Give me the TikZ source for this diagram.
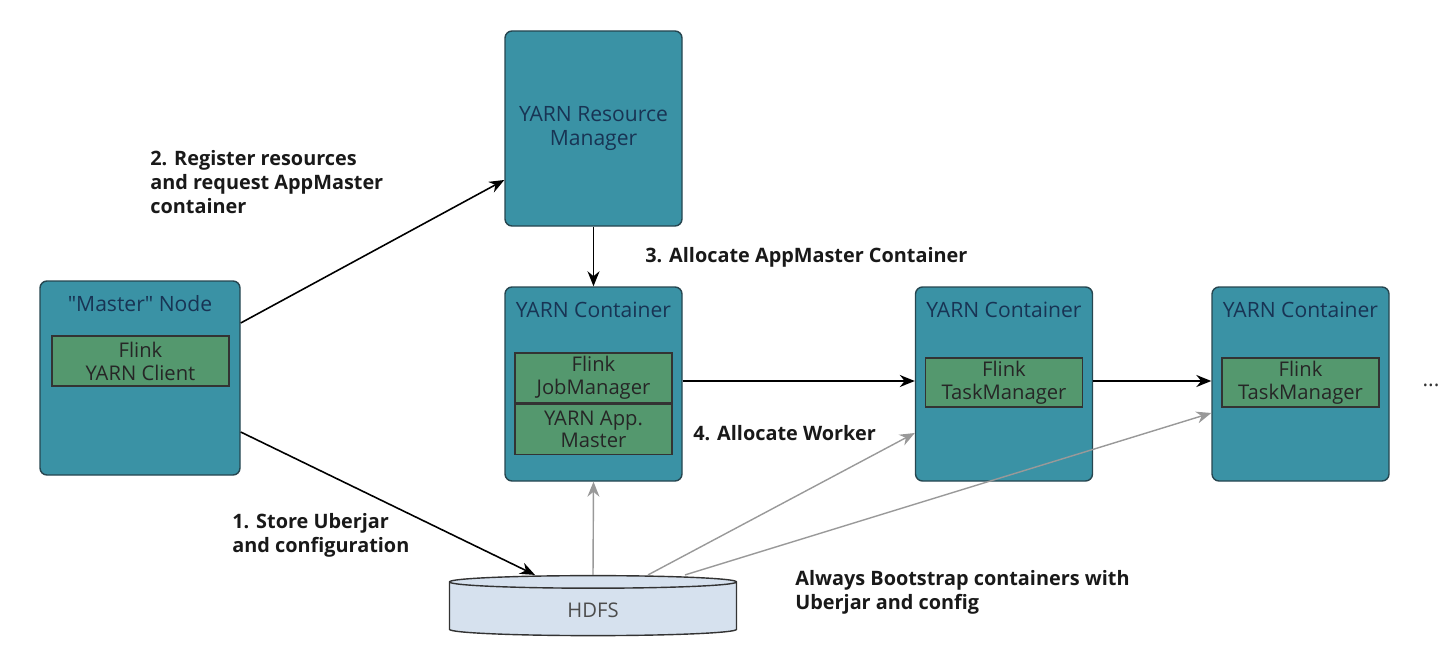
\documentclass[tikz,border=0pt]{standalone}
\usepackage{fontspec}
\setmainfont{Open Sans}
\usepackage{tikz}
\usetikzlibrary{positioning, arrows.meta, shapes.geometric, calc}
\definecolor{boxteal}{RGB}{58,146,165}
\definecolor{boxedge}{RGB}{38,70,80}
\definecolor{flinkgreen}{RGB}{84,152,110}
\definecolor{navytext}{RGB}{24,52,84}
\definecolor{diskfill}{RGB}{214,225,238}
\tikzset{
    yarnbox/.style={draw=boxedge, line width=0.8pt, rounded corners=4pt, fill=boxteal, minimum width=3.54cm, minimum height=3.88cm, inner sep=0pt},
    flinkbox/.style={draw=black!80, line width=0.8pt, fill=flinkgreen, minimum width=3.14cm, minimum height=1cm, align=center, font=\fontsize{11.5}{13}\selectfont, text=black!85, inner sep=0pt},
    boxtitle/.style={font=\fontsize{12}{13.5}\selectfont, text=navytext, inner sep=0pt, align=center},
    hdfsdisk/.style={draw=black!80, line width=0.8pt, cylinder, shape border rotate=90, aspect=0.2, fill=diskfill, minimum width=5.74cm, minimum height=1.2cm, font=\fontsize{11.5}{13}\selectfont, text=black!70},
    flowarrow/.style={-{Stealth[length=3mm, width=2.4mm]}, line width=0.9pt, black},
    bootarrow/.style={-{Stealth[length=3mm, width=2.4mm]}, line width=0.8pt, black!40},
    steplbl/.style={font=\bfseries\fontsize{11.3}{13.6}\selectfont, align=left, inner sep=0pt, text=black!90},
}

\begin{document}
\begin{tikzpicture}
    \useasboundingbox (0,0) rectangle (28.76,-13.08);
    % containers
    \node[yarnbox, minimum width=4cm] (master) at (2.8,-7.56) {};
    \node[yarnbox, minimum height=3.9cm] (rm) at (11.87,-2.57) {};
    \node[yarnbox] (c1) at (11.87,-7.68) {};
    \node[yarnbox] (c2) at (20.08,-7.68) {};
    \node[yarnbox] (c3) at (26.01,-7.68) {};
    \node[hdfsdisk] (hdfs) at (11.86,-12.2) {HDFS};
    % titles
    \node[boxtitle] (rmtitle) at (rm.center) {YARN Resource\\Manager};
    \node[boxtitle, below=0.3cm of master.north] (mastertitle) {\textquotedbl Master\textquotedbl{} Node};
    \node[boxtitle, below=0.3cm of c1.north] (c1title) {YARN Container};
    \node[boxtitle, below=0.3cm of c2.north] (c2title) {YARN Container};
    \node[boxtitle, below=0.3cm of c3.north] (c3title) {YARN Container};
    % flink parts
    \node[flinkbox, minimum width=3.54cm] (client) at (2.81,-7.22) {Flink\\YARN Client};
    \node[flinkbox] (jm) at (11.87,-7.56) {Flink\\JobManager};
    \node[flinkbox, below=0pt of jm] (am) {YARN App.\\Master};
    \node[flinkbox, minimum height=0.98cm] (tm1) at (20.08,-7.65) {Flink\\TaskManager};
    \node[flinkbox, minimum height=0.98cm] (tm2) at (26.01,-7.65) {Flink\\TaskManager};
    % steps
    \draw[flowarrow] ([yshift=-1.08cm]master.east) -- ([xshift=-1.16cm]hdfs.north);
    \draw[flowarrow] ([yshift=1.1cm]master.east) -- ([yshift=-1.03cm]rm.west);
    \draw[flowarrow] (rm) -- (c1);
    \draw[flowarrow] ([yshift=0.06cm]c1.east) -- ([yshift=0.06cm]c2.west);
    \draw[flowarrow] ([yshift=0.06cm]c2.east) -- ([yshift=0.06cm]c3.west);
    \draw[bootarrow] (hdfs.north) -- (c1.south);
    \draw[bootarrow] ([xshift=1.1cm]hdfs.north) -- ([yshift=-0.98cm]c2.west);
    \draw[bootarrow] ([xshift=1.84cm]hdfs.north) -- ([yshift=-0.58cm]c3.west);
    % labels
    \node[steplbl, anchor=north west] (lbl1) at (4.64,-10.26) {1. Store Uberjar\\and configuration};
    \node[steplbl, anchor=north west] (lbl2) at (3,-3.0) {2. Register resources\\and request AppMaster\\container};
    \node[steplbl, anchor=west] (lbl3) at (12.9,-5.14) {3. Allocate AppMaster Container};
    \node[steplbl, anchor=west] (lbl4) at (13.86,-8.66) {4. Allocate Worker};
    \node[steplbl, anchor=north west] (lblboot) at (15.9,-11.4) {Always Bootstrap containers with\\Uberjar and config};
    \node[boxtitle, text=black!80] (more) at (28.62,-7.7) {...};
\end{tikzpicture}
\end{document}
